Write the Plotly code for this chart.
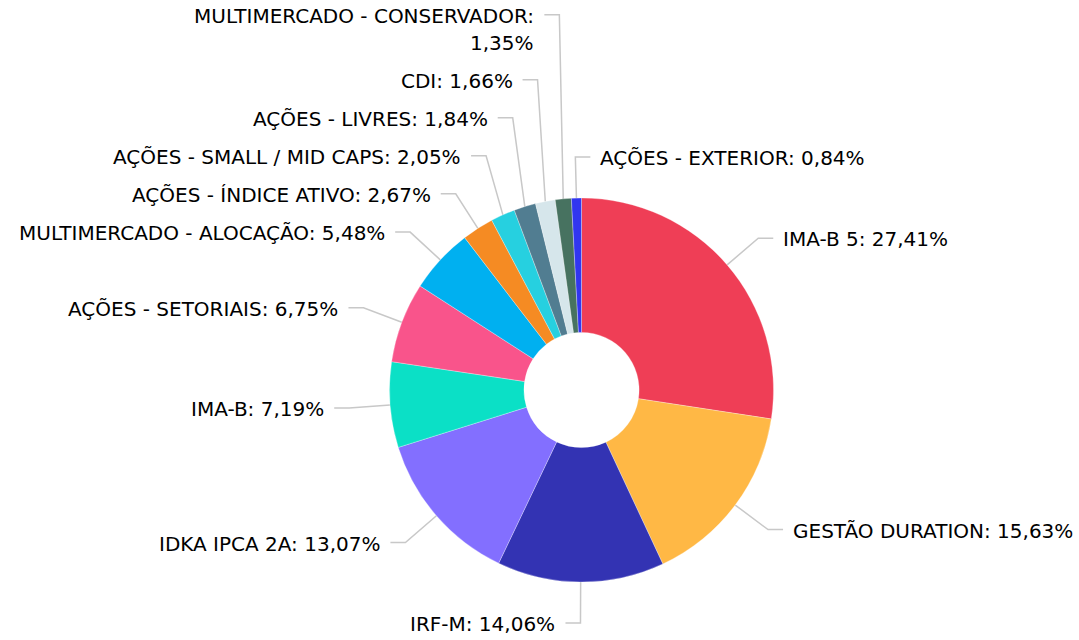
import math
import plotly.graph_objects as go

# ---- data ----
categories = [
    "IMA-B 5", "GESTÃO DURATION", "IRF-M", "IDKA IPCA 2A", "IMA-B",
    "AÇÕES - SETORIAIS", "MULTIMERCADO - ALOCAÇÃO", "AÇÕES - ÍNDICE ATIVO",
    "AÇÕES - SMALL / MID CAPS", "AÇÕES - LIVRES", "CDI",
    "MULTIMERCADO - CONSERVADOR", "AÇÕES - EXTERIOR",
]
values = [27.41, 15.63, 14.06, 13.07, 7.19, 6.75, 5.48, 2.67, 2.05, 1.84, 1.66, 1.35, 0.84]
colors = [
    "#EF3E56", "#FFB845", "#3333B3", "#836FFF", "#0BE0C6", "#F9548B",
    "#00B0F0", "#F58B23", "#26D0E0", "#517D91", "#D6E6EB", "#477260", "#3136F0",
]

# ---- layout parameters (pixels) ----
W, H = 1079, 640
CX, CY, R = 581.5, 390.0, 192.0
HOLE = 0.30
TICK_OUT = 41      # radial length of tick beyond the slice
SEG = 15           # horizontal tick segment
GAP = 8            # gap between tick and text
LINE_GAP = 38      # min vertical distance between labels
EXTRA_LINE = 27    # extra per wrapped line
FONT = dict(family="DejaVu Sans", size=20, color="#000000")


def fmt(v):
    return f"{v:.2f}".replace(".", ",") + "%"


def label_lines(name, v):
    if len(name) > 25:
        return [name + ":", fmt(v)]
    return [f"{name}: {fmt(v)}"]


total = sum(values)
items = []
cum = 0.0
for name, v in zip(categories, values):
    mid = (cum + v / 2) / total * 360.0
    cum += v
    t = math.radians(mid)
    ex, ey = CX + R * math.sin(t), CY - R * math.cos(t)
    kx, ky = CX + (R + TICK_OUT) * math.sin(t), CY - (R + TICK_OUT) * math.cos(t)
    right = ((mid + 2) % 360) < 180
    items.append(dict(ex=ex, ey=ey, kx=kx, ky=ky, right=right,
                      lines=label_lines(name, v)))

# resolve overlaps
left = sorted([it for it in items if not it["right"]], key=lambda d: -d["ky"])
prev = None
for it in left:
    if prev is not None:
        it["ky"] = min(it["ky"], prev["ky"] - LINE_GAP - EXTRA_LINE * (len(it["lines"]) - 1))
    prev = it
rightside = sorted([it for it in items if it["right"]], key=lambda d: d["ky"])
prev = None
for it in rightside:
    if prev is not None:
        it["ky"] = max(it["ky"], prev["ky"] + LINE_GAP + EXTRA_LINE * (len(prev["lines"]) - 1))
    prev = it

lx, ly = [], []
annotations = []
for it in items:
    sgn = 1 if it["right"] else -1
    hx = it["kx"] + sgn * SEG
    lx += [it["ex"], it["kx"], hx, None]
    ly += [it["ey"], it["ky"], it["ky"], None]
    tx = hx + sgn * GAP
    for k, line in enumerate(it["lines"]):
        annotations.append(dict(
            x=tx, y=it["ky"] + 1 + k * EXTRA_LINE, xref="x", yref="y",
            text=line, showarrow=False, font=FONT,
            xanchor="left" if it["right"] else "right", yanchor="middle",
        ))

fig = go.Figure()
fig.add_trace(go.Scatter(
    x=lx, y=ly, mode="lines", line=dict(color="#C8C8C8", width=1.5),
    hoverinfo="skip", showlegend=False,
))
fig.add_trace(go.Pie(
    labels=categories, values=values, sort=False, direction="clockwise",
    rotation=0, hole=HOLE, textinfo="none",
    marker=dict(colors=colors, line=dict(color="#FFFFFF", width=0.3)),
    domain=dict(x=[(CX - R) / W, (CX + R) / W],
                y=[(H - CY - R) / H, (H - CY + R) / H]),
    showlegend=False,
))
fig.update_layout(
    width=W, height=H, margin=dict(l=0, r=0, t=0, b=0),
    paper_bgcolor="white", plot_bgcolor="rgba(0,0,0,0)",
    xaxis=dict(range=[0, W], visible=False, domain=[0, 1], fixedrange=True),
    yaxis=dict(range=[H, 0], visible=False, domain=[0, 1], fixedrange=True),
    annotations=annotations, showlegend=False,
)
fig.write_html(
    "out.html",
    config={"displayModeBar": False},
    post_script="document.body.style.margin='0';document.body.style.overflow='hidden';",
)
